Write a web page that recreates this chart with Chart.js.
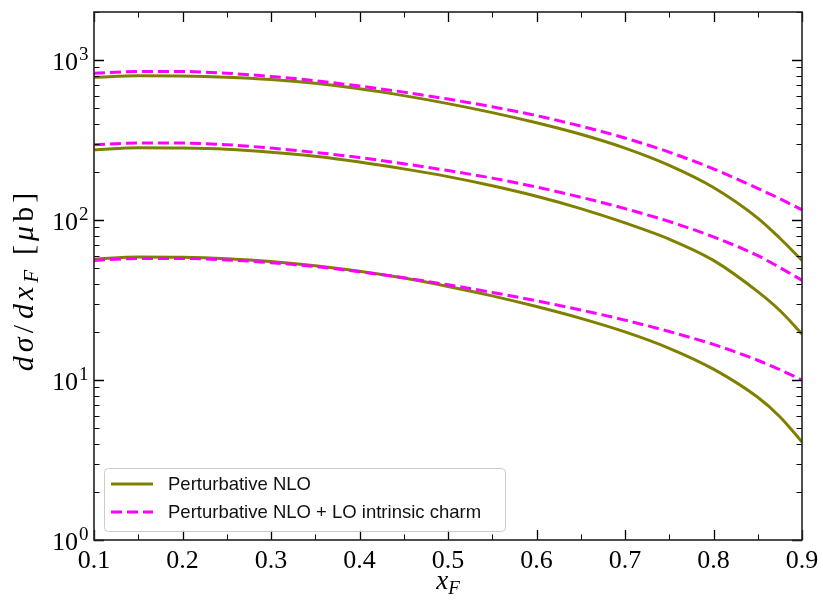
<!DOCTYPE html>
<html>
<head>
<meta charset="utf-8">
<script src="https://cdn.jsdelivr.net/npm/chart.js@4.4.0/dist/chart.umd.min.js"></script>
<style>
  html, body { margin: 0; padding: 0; background: #fff; }
  #wrap { width: 823px; height: 600px; }
</style>
</head>
<body>
<div id="wrap"><canvas id="xsecChart" width="823" height="600"></canvas></div>
<script>
// -----------------------------------------------------------------------------
// DATA - d(sigma)/dx_F in microbarn, three energies, NLO vs NLO + intrinsic charm
// -----------------------------------------------------------------------------
const xF = [0.1, 0.15, 0.2, 0.25, 0.3, 0.35, 0.4, 0.45, 0.5, 0.55, 0.6, 0.65, 0.7, 0.75, 0.8, 0.85, 0.875, 0.9];

const nloHigh = [782, 798, 796, 783, 757, 716, 662, 600, 535, 470, 406, 344, 282, 220, 160, 103, 77, 56];
const icHigh  = [828, 849, 849, 828, 791, 743, 689, 631, 571, 511, 450, 387, 326, 266, 209, 158, 136, 116];

const nloMid = [275, 283, 282, 277, 266, 251, 231, 209, 187, 164, 141, 118, 96, 76, 56, 35.7, 27.2, 19.4];
const icMid  = [296, 303, 303, 296, 282, 265, 246, 225, 204, 183, 161, 139, 118, 98, 78.5, 60, 50.5, 42];

const nloLow = [57, 58.7, 58.5, 57.3, 55.1, 51.9, 47.9, 43.4, 38.5, 33.6, 28.8, 24.3, 20, 15.8, 11.7, 7.8, 5.9, 4.1];
const icLow  = [56, 57.5, 57.5, 56.4, 54.2, 51.2, 47.5, 43.6, 39.4, 35.3, 31.3, 27.4, 23.7, 20.1, 16.7, 13.3, 11.6, 10];

const seriesLabels = ['Perturbative NLO', 'Perturbative NLO + LO intrinsic charm'];

const xTickValues = [0.1, 0.2, 0.3, 0.4, 0.5, 0.6, 0.7, 0.8, 0.9];
const xTickLabels = ['0.1', '0.2', '0.3', '0.4', '0.5', '0.6', '0.7', '0.8', '0.9'];
const yTickValues = [1, 10, 100, 1000];
const yTickExponents = ['0', '1', '2', '3'];

// -----------------------------------------------------------------------------
// STYLE
// -----------------------------------------------------------------------------
const OLIVE = '#808000';
const MAGENTA = '#ff00ff';
const DASH = [11, 5];
const SERIF = '"Liberation Serif", "DejaVu Serif", serif';
const SANS = '"Liberation Sans", "DejaVu Sans", sans-serif';

function pts(vals) {
  return xF.map((x, i) => ({ x: x, y: vals[i] }));
}

function solid(vals) {
  return { label: seriesLabels[0], data: pts(vals), borderColor: OLIVE, borderWidth: 3,
           pointRadius: 0, cubicInterpolationMode: 'monotone', fill: false, order: 1 };
}

function dashed(vals) {
  return { label: seriesLabels[1], data: pts(vals), borderColor: MAGENTA, borderWidth: 3,
           borderDash: DASH, pointRadius: 0, cubicInterpolationMode: 'monotone', fill: false, order: 0 };
}

// draw a row of text runs (italic / subscript pieces), centred on x
function drawRuns(ctx, runs, x, y, spacing) {
  let total = 0;
  runs.forEach(r => {
    ctx.font = r.font;
    r.w = ctx.measureText(r.t).width + (r.gap || 0) + spacing * r.t.length;
    total += r.w;
  });
  let cx = x - total / 2;
  ctx.textAlign = 'left';
  ctx.textBaseline = 'alphabetic';
  runs.forEach(r => {
    ctx.font = r.font;
    let px = cx;
    for (const ch of r.t) {
      ctx.fillText(ch, px, y + (r.dy || 0));
      px += ctx.measureText(ch).width + spacing;
    }
    cx += r.w;
  });
}

// frame, inward ticks, tick labels, axis titles and legend
const axesDecor = {
  id: 'axesDecor',
  afterDraw(chart) {
    const ctx = chart.ctx;
    const a = chart.chartArea;
    const xs = chart.scales.x;
    const ys = chart.scales.y;
    ctx.save();
    ctx.strokeStyle = '#000';
    ctx.fillStyle = '#000';

    // ticks
    const tick = (px, len, horiz) => {
      ctx.beginPath();
      if (horiz) {
        ctx.moveTo(px, a.bottom); ctx.lineTo(px, a.bottom - len);
        ctx.moveTo(px, a.top); ctx.lineTo(px, a.top + len);
      } else {
        ctx.moveTo(a.left, px); ctx.lineTo(a.left + len, px);
        ctx.moveTo(a.right, px); ctx.lineTo(a.right - len, px);
      }
      ctx.stroke();
    };
    ctx.lineWidth = 1.3;
    xTickValues.forEach(v => tick(Math.round(xs.getPixelForValue(v)) + 0.5, 10, true));
    ctx.lineWidth = 1;
    xTickValues.slice(0, -1).forEach(v => tick(Math.round(xs.getPixelForValue(v + 0.05)) + 0.5, 5.5, true));
    ctx.lineWidth = 1.3;
    yTickValues.forEach(v => tick(Math.round(ys.getPixelForValue(v)) + 0.5, 10, false));
    ctx.lineWidth = 1;
    yTickValues.forEach(v => {
      for (let m = 2; m <= 9; m++) {
        const val = v * m;
        if (val <= ys.max) tick(Math.round(ys.getPixelForValue(val)) + 0.5, 5.5, false);
      }
    });

    // frame
    ctx.lineWidth = 1.6;
    ctx.strokeStyle = '#222';
    ctx.strokeRect(a.left, a.top, a.right - a.left, a.bottom - a.top);

    // x tick labels
    ctx.textAlign = 'center';
    ctx.textBaseline = 'alphabetic';
    ctx.font = '26px ' + SERIF;
    xTickValues.forEach((v, i) => ctx.fillText(xTickLabels[i], xs.getPixelForValue(v), a.bottom + 28));

    // y tick labels 10^n
    yTickValues.forEach((v, i) => {
      const py = ys.getPixelForValue(v);
      ctx.textAlign = 'right';
      ctx.font = '26px ' + SERIF;
      ctx.fillText('10', 78, py + 10);
      ctx.textAlign = 'left';
      ctx.font = '19px ' + SERIF;
      ctx.fillText(yTickExponents[i], 79, py);
    });

    // axis titles
    const it = 'italic 27px ' + SERIF, sub = 'italic 19px ' + SERIF;
    drawRuns(ctx, [{ t: 'x', font: it }, { t: 'F', font: sub, dy: 5 }], (a.left + a.right) / 2, 589, 0);
    const it2 = 'italic 30px ' + SERIF, up2 = '30px ' + SERIF, sub2 = 'italic 21px ' + SERIF;
    ctx.save();
    ctx.translate(33, (a.top + a.bottom) / 2 + 4);
    ctx.rotate(-Math.PI / 2);
    drawRuns(ctx, [
      { t: 'd\u03c3', font: it2 }, { t: '/', font: up2, gap: 2 }, { t: 'dx', font: it2 },
      { t: 'F', font: sub2, dy: 5, gap: 11 }, { t: '[', font: up2 }, { t: '\u03bc', font: it2 }, { t: 'b]', font: up2 }
    ], 0, 0, 4);
    ctx.restore();

    // legend box
    const lx = 104.5, ly = 468.5, lw = 401, lh = 63;
    ctx.beginPath();
    ctx.roundRect(lx, ly, lw, lh, 4);
    ctx.fillStyle = 'rgba(255,255,255,0.8)';
    ctx.fill();
    ctx.strokeStyle = '#cccccc';
    ctx.lineWidth = 1;
    ctx.stroke();

    const rows = [
      { y: 484, color: OLIVE, dash: [] },
      { y: 512, color: MAGENTA, dash: DASH }
    ];
    rows.forEach((r, i) => {
      ctx.beginPath();
      ctx.setLineDash(r.dash);
      ctx.strokeStyle = r.color;
      ctx.lineWidth = 3;
      ctx.moveTo(111, r.y);
      ctx.lineTo(153, r.y);
      ctx.stroke();
      ctx.setLineDash([]);
      ctx.fillStyle = '#111';
      ctx.font = '18.5px ' + SANS;
      ctx.textAlign = 'left';
      ctx.textBaseline = 'middle';
      ctx.fillText(seriesLabels[i], 168, r.y + 1);
    });
    ctx.restore();
  }
};

new Chart(document.getElementById('xsecChart'), {
  type: 'line',
  data: {
    datasets: [
      solid(nloHigh), dashed(icHigh),
      solid(nloMid), dashed(icMid),
      solid(nloLow), dashed(icLow)
    ]
  },
  options: {
    responsive: false,
    animation: false,
    layout: { padding: { top: 12, right: 21, left: 0, bottom: 0 } },
    plugins: { legend: { display: false }, tooltip: { enabled: false } },
    scales: {
      x: {
        type: 'linear', min: 0.1, max: 0.9,
        grid: { display: false, drawTicks: false },
        border: { display: false },
        ticks: { display: false },
        afterFit: s => { s.height = 60; }
      },
      y: {
        type: 'logarithmic', min: 1, max: 2000,
        grid: { display: false, drawTicks: false },
        border: { display: false },
        ticks: { display: false },
        afterBuildTicks: s => { s.ticks = yTickValues.map(v => ({ value: v })); },
        afterFit: s => { s.width = 94; }
      }
    }
  },
  plugins: [axesDecor]
});
</script>
</body>
</html>
